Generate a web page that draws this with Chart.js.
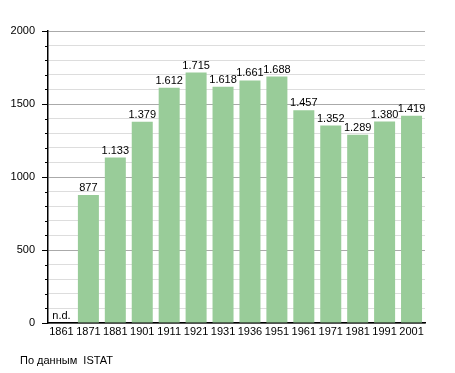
<!DOCTYPE html>
<html>
<head>
<meta charset="utf-8">
<script src="https://cdn.jsdelivr.net/npm/chart.js@4"></script>
<style>
	body { margin: 0; background: #fff; }
	#wrap { position: relative; width: 455px; height: 373px; }
	#note {
		position: absolute; left: 20px; top: 354px;
		font: 11px "Liberation Sans", Arial, sans-serif; color: #000;
		white-space: pre;
	}
</style>
</head>
<body>
<div id="wrap">
	<canvas id="chart" width="455" height="373"></canvas>
	<div id="note">По данным  ISTAT</div>
</div>
<script>
// anni dei censimenti e abitanti (1861 non disponibile)
const years = ["1861", "1871", "1881", "1901", "1911", "1921", "1931", "1936", "1951", "1961", "1971", "1981", "1991", "2001"];
const population = [null, 877, 1133, 1379, 1612, 1715, 1618, 1661, 1688, 1457, 1352, 1289, 1380, 1419];
const yTicks = [0, 500, 1000, 1500, 2000];

const FONT = "11px 'Liberation Sans', Arial, sans-serif";

function fmt(v) {
	// separatore delle migliaia col punto
	return String(v).replace(/\B(?=(\d{3})+(?!\d))/g, ".");
}

// etichette sopra le barre + tacche dell'asse y
const extras = {
	id: "extras",
	afterDatasetsDraw(chart) {
		const ctx = chart.ctx;
		const meta = chart.getDatasetMeta(0);
		const y = chart.scales.y;
		ctx.save();
		ctx.font = FONT;
		ctx.fillStyle = "#000";
		ctx.textAlign = "center";
		ctx.textBaseline = "alphabetic";
		meta.data.forEach((bar, i) => {
			const v = population[i];
			if (v == null) {
				ctx.fillText("n.d.", bar.x, y.getPixelForValue(0) - 4);
			} else {
				ctx.fillText(fmt(v), bar.x, bar.y - 4);
			}
		});
		// tacche
		const left = chart.chartArea.left;
		ctx.strokeStyle = "#000";
		ctx.lineWidth = 1;
		for (let v = 0; v <= 2000; v += 100) {
			const py = Math.round(y.getPixelForValue(v)) + 0.5;
			const len = v % 500 === 0 ? 6 : 3;
			ctx.beginPath();
			ctx.moveTo(left - len, py);
			ctx.lineTo(left, py);
			ctx.stroke();
		}
		ctx.restore();
	}
};

new Chart(document.getElementById("chart"), {
	type: "bar",
	data: {
		labels: years,
		datasets: [{
			data: population,
			backgroundColor: "#99cc99",
			borderWidth: 0,
			barPercentage: 0.78,
			categoryPercentage: 1
		}]
	},
	options: {
		responsive: false,
		animation: false,
		layout: { padding: { left: 0, right: 30, top: 31, bottom: 30 } },
		plugins: {
			legend: { display: false },
			tooltip: { enabled: false }
		},
		scales: {
			x: {
				grid: { display: false, drawTicks: false },
				border: { color: "#000", width: 1.5 },
				ticks: {
					color: "#000",
					font: { family: "'Liberation Sans', Arial, sans-serif", size: 11 },
					padding: 2,
					maxRotation: 0,
					autoSkip: false
				},
				afterFit(scale) { scale.height = 20; }
			},
			y: {
				min: 0,
				max: 2000,
				grid: {
					drawTicks: false,
					color: (c) => (c.tick && c.tick.value % 500 === 0 ? "#aaaaaa" : "#dddddd"),
					lineWidth: 1
				},
				border: { color: "#000", width: 1.5 },
				ticks: {
					stepSize: 100,
					autoSkip: false,
					color: "#000",
					font: { family: "'Liberation Sans', Arial, sans-serif", size: 11 },
					padding: 13,
					callback: (v) => (yTicks.includes(v) ? String(v) : "")
				},
				afterFit(scale) { scale.width = 48; }
			}
		}
	},
	plugins: [extras]
});
</script>
</body>
</html>
